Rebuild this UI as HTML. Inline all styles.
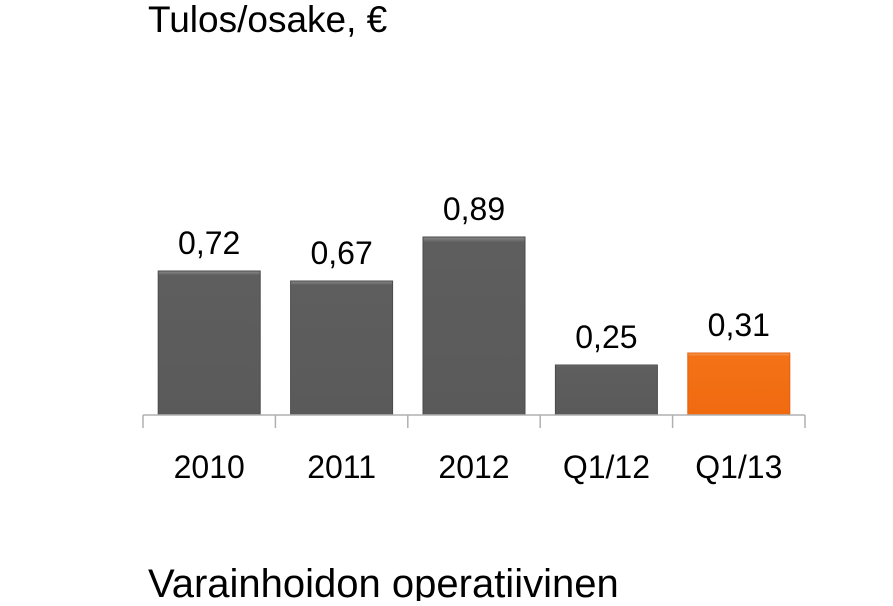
<!DOCTYPE html>
<html><head><meta charset="utf-8"><style>
body{margin:0;background:#fff;width:893px;height:601px;overflow:hidden;font-family:"Liberation Sans",sans-serif}
</style></head><body>
<svg width="893" height="601" xmlns="http://www.w3.org/2000/svg">
<defs>
<linearGradient id="gg" x1="0" y1="0" x2="0" y2="1"><stop offset="0" stop-color="#8a8a8a"/><stop offset="0.03" stop-color="#5e5e5e"/><stop offset="1" stop-color="#5a5a5a"/></linearGradient>
<linearGradient id="go" x1="0" y1="0" x2="0" y2="1"><stop offset="0" stop-color="#f9a060"/><stop offset="0.05" stop-color="#f47216"/><stop offset="1" stop-color="#f06a10"/></linearGradient>
</defs>
<text x="148" y="32" font-size="37" fill="#000">Tulos/osake, €</text>
<g id="bars"></g>
<text x="148" y="597" font-size="40" fill="#000">Varainhoidon operatiivinen</text>
</svg>
<script>
const categories=["2010","2011","2012","Q1/12","Q1/13"];
const values=[0.72,0.67,0.89,0.25,0.31];
const labels=["0,72","0,67","0,89","0,25","0,31"];
const NS="http://www.w3.org/2000/svg";
const g=document.getElementById("bars");
const x0=143,step=132.4,base=415,scale=200,bw=102;
function y(v){return base-v*scale;}
function mk(t,a){const e=document.createElementNS(NS,t);for(const k in a)e.setAttribute(k,a[k]);g.appendChild(e);return e;}
categories.forEach((c,i)=>{
 const cx=x0+step*(i+0.5);
 const r=mk("rect",{x:cx-bw/2,y:y(values[i]),width:bw,height:values[i]*scale,fill:i==4?"url(#go)":"url(#gg)",stroke:i==4?"#e06010":"#4a4a4a","stroke-width":1});
 
 
 const vl=mk("text",{x:cx,y:y(values[i])-17,"font-size":32,"text-anchor":"middle",fill:"#000"});
 vl.textContent=labels[i];
 
 
 const cl=mk("text",{x:cx,y:478,"font-size":32,"text-anchor":"middle",fill:"#000"});
 cl.textContent=c;
 
 
});
const ax=mk("line",{x1:x0,x2:x0+step*5,y1:base,y2:base,stroke:"#b0b0b0","stroke-width":1.5});


for(let i=0;i<=5;i++){
 const t=mk("line",{x1:x0+step*i,x2:x0+step*i,y1:base,y2:428,stroke:"#b0b0b0","stroke-width":1.5});
 
 
}
</script>
</body></html>
